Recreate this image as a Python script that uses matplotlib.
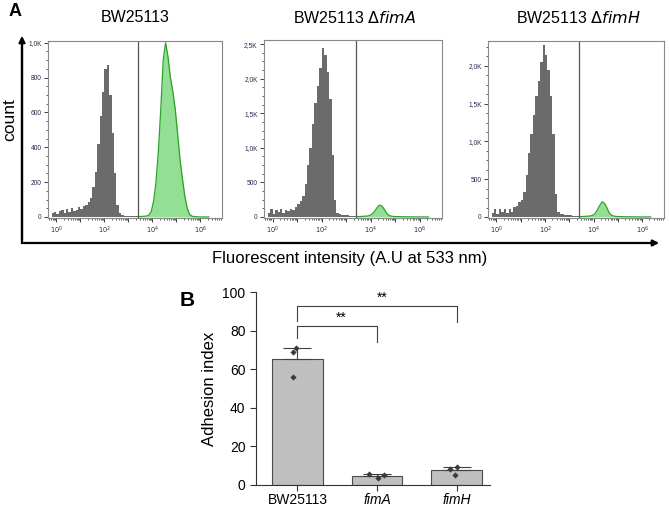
import numpy as np
import matplotlib
matplotlib.use("Agg")
import matplotlib.pyplot as plt
from matplotlib.ticker import FixedLocator, AutoMinorLocator, LogLocator, NullFormatter

plt.rcParams['font.family'] = ['Liberation Sans', 'DejaVu Sans']

# ---- panel A data: flow cytometry histograms (counts per 0.1 decade bin) ----
titles = ["BW25113", r"BW25113 $\Delta$$\it{fimA}$", r"BW25113 $\Delta$$\it{fimH}$"]
gate_log = 3.4
gray_start = -0.2      # first gray bin edge (log10)
green_start = 3.4      # first green bin edge (log10)

gray_wt = [20, 30, 15, 35, 40, 25, 45, 30, 50, 35, 40, 55, 45, 60, 70, 85, 110, 170,
           260, 420, 580, 720, 850, 870, 700, 480, 250, 70, 20, 10, 8, 6, 5, 5, 4, 3]
green_wt = [2, 3, 4, 5, 10, 30, 90, 200, 380, 620, 900, 1000, 920, 800, 720, 620, 480,
            330, 220, 120, 50, 15, 4, 2, 1, 0, 0, 0, 0, 0]

gray_fimA = [60, 110, 40, 100, 70, 110, 60, 100, 80, 120, 100, 140, 180, 230, 300, 480,
             750, 1000, 1350, 1650, 1900, 2150, 2450, 2350, 2100, 1700, 900, 250, 60, 40,
             35, 30, 25, 20, 15, 10]
green_fimA = [5, 6, 8, 10, 12, 20, 40, 80, 130, 170, 160, 110, 50, 20, 10, 6, 5, 4, 3, 3,
              2, 2, 1, 1, 0, 0, 0, 0, 0, 0]

gray_fimH = [50, 110, 40, 110, 60, 100, 50, 110, 70, 130, 150, 200, 230, 330, 550, 850,
             1100, 1350, 1600, 1800, 2050, 2280, 2150, 1950, 1600, 1100, 300, 60, 40, 35,
             30, 25, 20, 15, 12, 10]
green_fimH = [4, 6, 8, 10, 12, 20, 40, 90, 150, 200, 180, 120, 50, 20, 10, 6, 5, 4, 3, 3,
              2, 2, 1, 1, 0, 0, 0, 0, 0, 0]

ymax = [1010, 2560, 2330]
yticks = [[0, 200, 400, 600, 800, 1000], [0, 500, 1000, 1500, 2000, 2500],
          [0, 500, 1000, 1500, 2000]]
ytick_labels = [["0", "200", "400", "600", "800", "1,0K"],
                ["0", "500", "1,0K", "1,5K", "2,0K", "2,5K"],
                ["0", "500", "1,0K", "1,5K", "2,0K"]]

# ---- panel B data: adhesion index ----
strains = ["BW25113", "fimA", "fimH"]
means = [65.5, 4.9, 7.9]
sd = [5.4, 0.9, 1.4]
reps = [[70.8, 69.1, 55.8], [5.7, 3.5, 5.0], [8.3, 9.2, 5.3]]
rep_dx = [[-0.02, -0.05, -0.06], [-0.1, 0.01, 0.09], [-0.08, 0.0, -0.02]]

W, H = 669, 507
fig = plt.figure(figsize=(W / 100, H / 100), dpi=100)


def box(l, t, r, b):
    return [l / W, 1 - b / H, (r - l) / W, (b - t) / H]


hist_boxes = [(48, 41, 222, 218), (264, 40, 442, 218), (488, 41, 664, 218)]
grays = [gray_wt, gray_fimA, gray_fimH]
greens = [green_wt, green_fimA, green_fimH]
title_x = [135, 355, 578]
label_col = '#2a2a50'

for i in range(3):
    ax = fig.add_axes(box(*hist_boxes[i]))
    g = np.array(grays[i], dtype=float)
    edges = 10 ** (gray_start + 0.1 * np.arange(len(g) + 1))
    ax.stairs(g, edges, fill=True, color='#6b6b6b', lw=0)

    gr = np.array(greens[i], dtype=float)
    centers = 10 ** (green_start + 0.05 + 0.1 * np.arange(len(gr)))
    ax.fill_between(centers, gr, color='#93df93', lw=0)
    ax.plot(centers, gr, color='#2aa02a', lw=0.9)

    ax.axvline(10 ** gate_log, color='#555555', lw=0.9)
    ax.set_xscale('log')
    ax.set_xlim(10 ** -0.35, 10 ** 6.9)
    ax.set_ylim(-ymax[i] * 0.006, ymax[i])

    ax.xaxis.set_major_locator(FixedLocator([10.0 ** k for k in range(0, 7)]))
    ax.set_xticklabels(['$10^{%d}$' % k if k % 2 == 0 else '' for k in range(0, 7)])
    ax.xaxis.set_minor_locator(LogLocator(base=10, subs=np.arange(2, 10), numticks=20))
    ax.xaxis.set_minor_formatter(NullFormatter())
    ax.set_yticks(yticks[i])
    ax.set_yticklabels(ytick_labels[i])
    ax.yaxis.set_minor_locator(AutoMinorLocator(4))
    ax.tick_params(which='major', length=3, width=0.6, labelsize=4.8,
                   labelcolor=label_col, color='#222222', pad=1.5)
    ax.tick_params(which='minor', length=1.5, width=0.5, color='#222222')
    for s in ax.spines.values():
        s.set_color('#888888')
        s.set_linewidth(0.8)
    fig.text(title_x[i] / W, 1 - 18 / H, titles[i], ha='center', va='center', fontsize=11.5)

# big L-shaped axis arrows
fig.add_artist(plt.Line2D([22 / W, 22 / W], [1 - 243 / H, 1 - 40 / H], color='black', lw=1.6))
plt.annotate('', xy=(22 / W, 1 - 33 / H), xytext=(22 / W, 1 - 243 / H), xycoords='figure fraction',
             arrowprops=dict(arrowstyle='-|>', lw=1.6, color='black', mutation_scale=9))
plt.annotate('', xy=(662 / W, 1 - 243 / H), xytext=(21 / W, 1 - 243 / H), xycoords='figure fraction',
             arrowprops=dict(arrowstyle='-|>', lw=1.6, color='black', mutation_scale=9))
fig.text(10 / W, 1 - 120 / H, 'count', rotation=90, ha='center', va='center', fontsize=12.5)
fig.text(350 / W, 1 - 258 / H, 'Fluorescent intensity (A.U at 533 nm)', ha='center', va='center',
         fontsize=12)
fig.text(15 / W, 1 - 12 / H, 'A', ha='center', va='center', fontsize=13, fontweight='bold')

# ---- panel B ----
axb = fig.add_axes(box(256, 292, 490, 485))
x = np.arange(len(strains))
axb.bar(x, means, width=0.64, color='#bfbfbf', edgecolor='#4a4a4a', lw=0.8, zorder=1)
axb.errorbar(x, means, yerr=[np.zeros(len(sd)), sd], fmt='none', ecolor='#404040',
             capsize=10, elinewidth=0.8, capthick=0.8, zorder=2)
for i in range(len(strains)):
    axb.scatter(x[i] + np.array(rep_dx[i]), reps[i], marker='D', s=10, color='#3a3a3a',
                zorder=3, lw=0)

# significance brackets
axb.plot([0, 0, 1, 1], [76, 82.5, 82.5, 74], color='#404040', lw=0.8)
axb.text(0.55, 82.8, '**', ha='center', va='bottom', fontsize=10)
axb.plot([0, 0, 2, 2], [85, 92.9, 92.9, 84.3], color='#404040', lw=0.8)
axb.text(1.07, 93.2, '**', ha='center', va='bottom', fontsize=10)

axb.set_xlim(-0.52, 2.42)
axb.set_ylim(0, 100)
axb.set_yticks([0, 20, 40, 60, 80, 100])
axb.set_xticks(x)
axb.set_xticklabels(strains)
for lab in axb.get_xticklabels()[1:]:
    lab.set_fontstyle('italic')
axb.tick_params(labelsize=10, length=4, width=0.8, color='#333333')
axb.tick_params(axis='x', pad=1.5)
axb.spines['top'].set_visible(False)
axb.spines['right'].set_visible(False)
for s in ['left', 'bottom']:
    axb.spines[s].set_linewidth(0.8)
    axb.spines[s].set_color('#333333')
axb.set_ylabel('Adhesion index', fontsize=12, labelpad=4)
fig.text(187 / W, 1 - 300 / H, 'B', ha='center', va='center', fontsize=15, fontweight='bold')

fig.savefig('out.png', dpi=100)
